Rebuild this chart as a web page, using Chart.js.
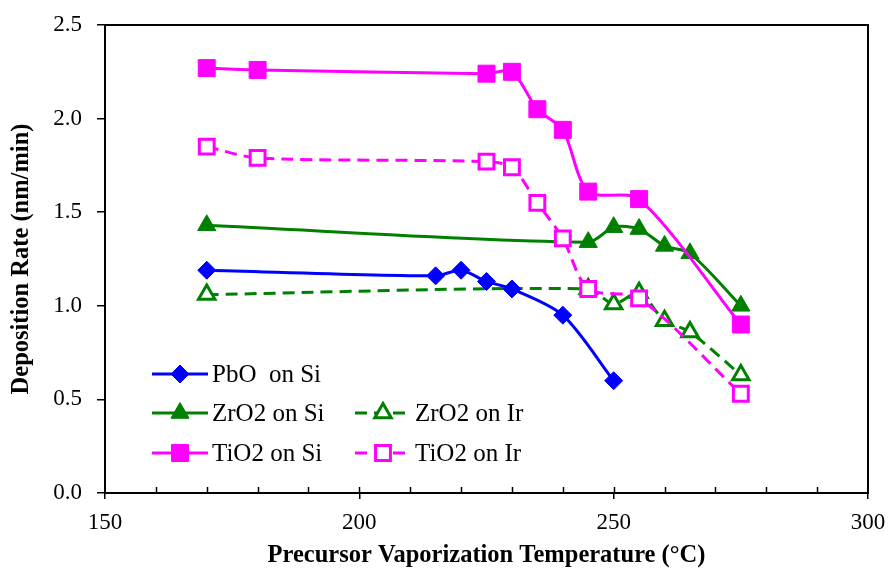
<!DOCTYPE html>
<html>
<head>
<meta charset="utf-8">
<title>Deposition Rate vs Precursor Vaporization Temperature</title>
<script src="https://cdn.jsdelivr.net/npm/chart.js@4/dist/chart.umd.min.js"></script>
<style>
  html, body { margin: 0; padding: 0; background: #fff; }
</style>
</head>
<body>
<canvas id="rateChart" width="889" height="570"></canvas>
<script>
// Measured deposition rates (nm/min) against vaporization temperature (°C)
const pboSiTemp = [170, 215, 220, 225, 230, 240, 250];
const pboSiRate = [1.19, 1.16, 1.19, 1.13, 1.09, 0.95, 0.60];

const zro2SiTemp = [170, 245, 250, 255, 260, 265, 275];
const zro2SiRate = [1.43, 1.34, 1.42, 1.41, 1.32, 1.28, 1.00];

const zro2IrTemp = [170, 245, 250, 255, 260, 265, 275];
const zro2IrRate = [1.06, 1.09, 1.01, 1.07, 0.92, 0.86, 0.63];

const tio2SiTemp = [170, 180, 225, 230, 235, 240, 245, 255, 275];
const tio2SiRate = [2.27, 2.26, 2.24, 2.25, 2.05, 1.94, 1.61, 1.57, 0.90];

const tio2IrTemp = [170, 180, 225, 230, 235, 240, 245, 255, 275];
const tio2IrRate = [1.85, 1.79, 1.77, 1.74, 1.55, 1.36, 1.09, 1.04, 0.53];

const xTicks = [150, 200, 250, 300];
const xMinorStep = 10;
const yTicks = [0.0, 0.5, 1.0, 1.5, 2.0, 2.5];

const BLUE = '#0000ff';
const GREEN = '#008000';
const PINK = '#ff00ff';
const SERIF = '"Liberation Serif", "Times New Roman", serif';

function toPoints(xs, ys) {
  return xs.map((x, i) => ({ x: x, y: ys[i] }));
}

function series(label, xs, ys, color, style, hollow, dashed, radius, order) {
  return {
    label: label,
    data: toPoints(xs, ys),
    borderColor: color,
    backgroundColor: color,
    borderWidth: 3,
    borderDash: dashed ? [12, 7] : [],
    pointStyle: style,
    pointRadius: radius,
    pointHoverRadius: radius,
    pointBackgroundColor: hollow ? '#ffffff' : color,
    pointBorderColor: color,
    pointBorderWidth: hollow ? 3 : 1,
    tension: 0.28,
    fill: false,
    order: order
  };
}

const datasets = [
  series('PbO  on Si', pboSiTemp, pboSiRate, BLUE, 'rectRot', false, false, 9, 2),
  series('ZrO2 on Si', zro2SiTemp, zro2SiRate, GREEN, 'triangle', false, false, 10.5, 3),
  series('ZrO2 on Ir', zro2IrTemp, zro2IrRate, GREEN, 'triangle', true, true, 9.5, 4),
  series('TiO2 on Si', tio2SiTemp, tio2SiRate, PINK, 'rect', false, false, 12, 0),
  series('TiO2 on Ir', tio2IrTemp, tio2IrRate, PINK, 'rect', true, true, 10.5, 1)
];

// Legend layout: one entry on the first row, then two columns
const legendCells = [
  { ds: 0, col: 0, row: 0 },
  { ds: 1, col: 0, row: 1 },
  { ds: 2, col: 1, row: 1 },
  { ds: 3, col: 0, row: 2 },
  { ds: 4, col: 1, row: 2 }
];

// closed frame plus the short inner tick marks on the x axis
const framePlugin = {
  id: 'frame',
  beforeDatasetsDraw(chart) {
    const { ctx, chartArea: a } = chart;
    const xs = chart.scales.x;
    ctx.save();
    ctx.strokeStyle = '#000';
    ctx.lineWidth = 2;
    ctx.strokeRect(a.left, a.top, a.right - a.left, a.bottom - a.top);
    ctx.lineWidth = 1.5;
    ctx.beginPath();
    for (let v = xs.min + xMinorStep; v < xs.max; v += xMinorStep) {
      const px = Math.round(xs.getPixelForValue(v)) + 0.5;
      ctx.moveTo(px, a.bottom);
      ctx.lineTo(px, a.bottom - 6);
    }
    ctx.stroke();
    ctx.restore();
  }
};

const legendPlugin = {
  id: 'cornerLegend',
  afterDraw(chart) {
    const { ctx } = chart;
    const colX = [152, 355];
    const rowY = [374, 413, 453];
    const sampleLen = 56;
    ctx.save();
    ctx.font = '25px ' + SERIF;
    ctx.textBaseline = 'middle';
    ctx.textAlign = 'left';
    legendCells.forEach(cell => {
      const d = chart.data.datasets[cell.ds];
      const x0 = colX[cell.col];
      const y = rowY[cell.row];
      ctx.strokeStyle = d.borderColor;
      ctx.lineWidth = 3;
      ctx.setLineDash(d.borderDash);
      ctx.beginPath();
      ctx.moveTo(x0, y);
      ctx.lineTo(x0 + sampleLen, y);
      ctx.stroke();
      ctx.setLineDash([]);
      ctx.fillStyle = d.pointBackgroundColor;
      ctx.strokeStyle = d.pointBorderColor;
      ctx.lineWidth = d.pointBorderWidth;
      Chart.helpers.drawPoint(ctx, {
        pointStyle: d.pointStyle,
        radius: d.pointRadius,
        rotation: 0,
        borderWidth: d.pointBorderWidth
      }, x0 + sampleLen / 2, y);
      ctx.fillStyle = '#000';
      ctx.fillText(d.label, x0 + sampleLen + 4, y + 1);
    });
    ctx.restore();
  }
};

new Chart(document.getElementById('rateChart'), {
  type: 'line',
  data: { datasets: datasets },
  plugins: [framePlugin, legendPlugin],
  options: {
    responsive: false,
    animation: false,
    events: [],
    layout: { padding: { top: 25, right: 21, left: 0, bottom: 0 } },
    plugins: {
      legend: { display: false },
      tooltip: { enabled: false }
    },
    scales: {
      x: {
        type: 'linear',
        min: 150,
        max: 300,
        afterBuildTicks: s => { s.ticks = xTicks.map(v => ({ value: v })); },
        afterFit: s => { s.height = 77; s.paddingLeft = 0; s.paddingRight = 0; },
        border: { display: true, color: '#000', width: 2 },
        grid: { drawOnChartArea: false, color: '#000', lineWidth: 1.5, tickLength: 6 },
        ticks: {
          color: '#000',
          padding: 10,
          maxRotation: 0,
          font: { family: SERIF, size: 23 },
          callback: v => String(v)
        },
        title: {
          display: true,
          text: 'Precursor Vaporization Temperature (°C)',
          color: '#000',
          font: { family: SERIF, size: 24.5, weight: 'bold' },
          padding: { top: 0, bottom: 0 }
        }
      },
      y: {
        min: 0,
        max: 2.5,
        afterBuildTicks: s => { s.ticks = yTicks.map(v => ({ value: v })); },
        afterFit: s => { s.width = 105; s.paddingTop = 0; s.paddingBottom = 0; },
        border: { display: true, color: '#000', width: 2 },
        grid: { drawOnChartArea: false, color: '#000', lineWidth: 1.5, tickLength: 8 },
        ticks: {
          color: '#000',
          padding: 15,
          font: { family: SERIF, size: 23 },
          callback: v => v.toFixed(1)
        },
        title: {
          display: true,
          text: 'Deposition Rate (nm/min)',
          color: '#000',
          font: { family: SERIF, size: 24.5, weight: 'bold' },
          padding: { top: 7, bottom: 0 }
        }
      }
    }
  }
});
</script>
</body>
</html>
